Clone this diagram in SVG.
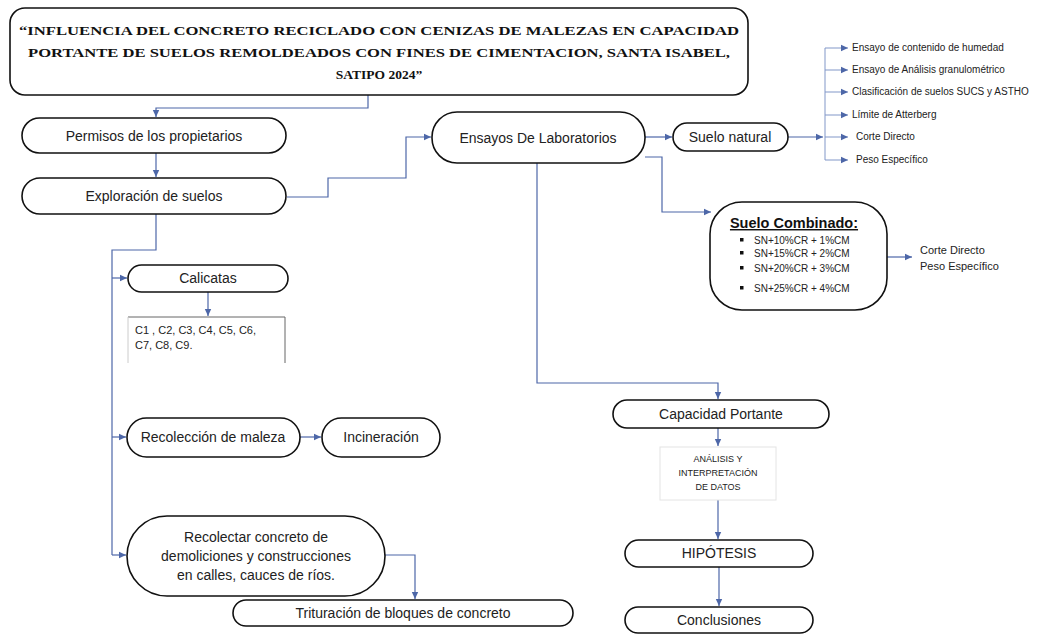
<svg xmlns="http://www.w3.org/2000/svg" width="1059" height="637" viewBox="0 0 1059 637">
<style>
.box{fill:#fff;stroke:#111;stroke-width:1.6}
.t{font-family:"Liberation Sans",Arial,sans-serif;font-size:14px;fill:#222;text-anchor:middle;dominant-baseline:central}
.title{font-family:"Liberation Serif","Times New Roman",serif;font-weight:bold;font-size:13.5px;fill:#111;text-anchor:middle}
.s{font-family:"Liberation Sans",Arial,sans-serif;font-size:10px;fill:#222}
.c{fill:none;stroke:#4d67a8;stroke-width:1.2}
.cl{fill:none;stroke:#8197c8;stroke-width:1}
</style>
<defs>
<marker id="ah" markerUnits="userSpaceOnUse" markerWidth="8" markerHeight="8" refX="7" refY="4" orient="auto">
<path d="M0,0.8 L7,4 L0,7.2 Z" fill="#4d67a8"/>
</marker>
</defs>
<rect width="1059" height="637" fill="#fff"/>

<g id="connectors">
<path class="c" d="M368,95 V108 H156 V117" marker-end="url(#ah)"/>
<path class="c" d="M156,153 V177" marker-end="url(#ah)"/>
<path class="c" d="M287,197 H328 V178 H406 V137 H431" marker-end="url(#ah)"/>
<path class="c" d="M156,214 V250 H112 V555"/>
<path class="c" d="M112,278 H127" marker-end="url(#ah)"/>
<path class="c" d="M208,292 V316" marker-end="url(#ah)"/>
<path class="c" d="M112,437 H126" marker-end="url(#ah)"/>
<path class="c" d="M300,437 H321" marker-end="url(#ah)"/>
<path class="c" d="M112,555 H126" marker-end="url(#ah)"/>
<path class="c" d="M385,555 H415 V599" marker-end="url(#ah)"/>
<path class="c" d="M645,137 H672" marker-end="url(#ah)"/>
<path class="c" d="M645,157 H662 V212 H711" marker-end="url(#ah)"/>
<path class="c" d="M788,137 H823" marker-end="url(#ah)"/>
<path class="cl" d="M825,48 V160"/>
<path class="cl" d="M825,48 H848" marker-end="url(#ah)"/>
<path class="cl" d="M825,70 H848" marker-end="url(#ah)"/>
<path class="cl" d="M825,92 H848" marker-end="url(#ah)"/>
<path class="cl" d="M825,115 H848" marker-end="url(#ah)"/>
<path class="cl" d="M825,137 H848" marker-end="url(#ah)"/>
<path class="cl" d="M825,160 H848" marker-end="url(#ah)"/>
<path class="c" d="M887,257 H912" marker-end="url(#ah)"/>
<path class="c" d="M537,163 V383 H718 V399" marker-end="url(#ah)"/>
<path class="c" d="M718,428 V446" marker-end="url(#ah)"/>
<path class="c" d="M718,500 V539" marker-end="url(#ah)"/>
<path class="c" d="M719,567 V606" marker-end="url(#ah)"/>
</g>

<g id="title">
<rect class="box" x="10" y="8" width="738" height="87" rx="15"/>
<text class="title" x="379" y="35" textLength="720" lengthAdjust="spacingAndGlyphs">“INFLUENCIA DEL CONCRETO RECICLADO CON CENIZAS DE MALEZAS EN CAPACIDAD</text>
<text class="title" x="379" y="57" textLength="702" lengthAdjust="spacingAndGlyphs">PORTANTE DE SUELOS REMOLDEADOS CON FINES DE CIMENTACION, SANTA ISABEL,</text>
<text class="title" x="379" y="79">SATIPO 2024”</text>
</g>

<g id="permisos">
<rect class="box" x="22" y="118" width="264" height="35" rx="17.5"/>
<text class="t" x="154" y="136">Permisos de los propietarios</text>
</g>

<g id="exploracion">
<rect class="box" x="22" y="178" width="264" height="36" rx="18"/>
<text class="t" x="154" y="196">Exploración de suelos</text>
</g>

<g id="ensayos">
<rect class="box" x="432" y="112" width="213" height="51" rx="25"/>
<text class="t" x="538" y="138">Ensayos De Laboratorios</text>
</g>

<g id="suelo-natural">
<rect class="box" x="673" y="123" width="115" height="28" rx="14"/>
<text class="t" x="730" y="137">Suelo natural</text>
</g>

<g id="ensayos-lista">
<text class="s" x="852" y="51">Ensayo de contenido de humedad</text>
<text class="s" x="852" y="73">Ensayo de Análisis granulométrico</text>
<text class="s" x="852" y="95">Clasificación de suelos SUCS y ASTHO</text>
<text class="s" x="852" y="118">Límite de Atterberg</text>
<text class="s" x="856" y="140">Corte Directo</text>
<text class="s" x="856" y="163">Peso Específico</text>
</g>

<g id="suelo-combinado">
<rect class="box" x="710" y="202" width="177" height="108" rx="32"/>
<text x="794" y="228" style="font-family:'Liberation Sans',Arial,sans-serif;font-size:14.5px;font-weight:bold;fill:#111;text-anchor:middle;text-decoration:underline">Suelo Combinado:</text>
<rect x="740" y="238" width="3.5" height="3.5" fill="#111"/>
<rect x="740" y="251" width="3.5" height="3.5" fill="#111"/>
<rect x="740" y="266" width="3.5" height="3.5" fill="#111"/>
<rect x="740" y="286" width="3.5" height="3.5" fill="#111"/>
<text class="s" x="754" y="243.5" style="font-size:10px">SN+10%CR + 1%CM</text>
<text class="s" x="754" y="256.5" style="font-size:10px">SN+15%CR + 2%CM</text>
<text class="s" x="754" y="271.5" style="font-size:10px">SN+20%CR + 3%CM</text>
<text class="s" x="754" y="291.5" style="font-size:10px">SN+25%CR + 4%CM</text>
</g>

<g id="combinado-ensayos">
<text class="s" x="920" y="254" style="font-size:11px">Corte Directo</text>
<text class="s" x="920" y="270" style="font-size:11px">Peso Específico</text>
</g>

<g id="calicatas">
<rect class="box" x="128" y="265" width="160" height="27" rx="13.5"/>
<text class="t" x="208" y="278">Calicatas</text>
</g>

<g id="calicatas-lista">
<path d="M128,317 H285 V363" fill="none" stroke="#666" stroke-width="1"/>
<path d="M128,317 V363" fill="none" stroke="#ccc" stroke-width="1"/>
<text class="s" x="135" y="334" style="font-size:11px">C1 , C2, C3, C4, C5, C6,</text>
<text class="s" x="135" y="349" style="font-size:11px">C7, C8, C9.</text>
</g>

<g id="recoleccion">
<rect class="box" x="127" y="418" width="173" height="39" rx="19.5"/>
<text class="t" x="213" y="437">Recolección de maleza</text>
</g>

<g id="incineracion">
<rect class="box" x="322" y="418" width="118" height="39" rx="19.5"/>
<text class="t" x="381" y="437">Incineración</text>
</g>

<g id="recolectar">
<rect class="box" x="127" y="516" width="258" height="80" rx="40"/>
<text class="t" x="256" y="537">Recolectar concreto de</text>
<text class="t" x="256" y="556">demoliciones y construcciones</text>
<text class="t" x="256" y="575">en calles, cauces de ríos.</text>
</g>

<g id="trituracion">
<rect class="box" x="233" y="600" width="340" height="26" rx="13"/>
<text class="t" x="403" y="613">Trituración de bloques de concreto</text>
</g>

<g id="capacidad">
<rect class="box" x="613" y="400" width="216" height="28" rx="14"/>
<text class="t" x="721" y="414">Capacidad Portante</text>
</g>

<g id="analisis">
<rect x="660" y="447" width="116" height="53" fill="#fff" stroke="#e4e4e4" stroke-width="1"/>
<text class="s" x="718" y="462" style="font-size:9px;text-anchor:middle">ANÁLISIS Y</text>
<text class="s" x="718" y="476" style="font-size:9px;text-anchor:middle">INTERPRETACIÓN</text>
<text class="s" x="718" y="490" style="font-size:9px;text-anchor:middle">DE DATOS</text>
</g>

<g id="hipotesis">
<rect class="box" x="625" y="540" width="188" height="27" rx="13.5"/>
<text class="t" x="719" y="553">HIPÓTESIS</text>
</g>

<g id="conclusiones">
<rect class="box" x="625" y="607" width="188" height="26" rx="13"/>
<text class="t" x="719" y="620">Conclusiones</text>
</g>
</svg>
